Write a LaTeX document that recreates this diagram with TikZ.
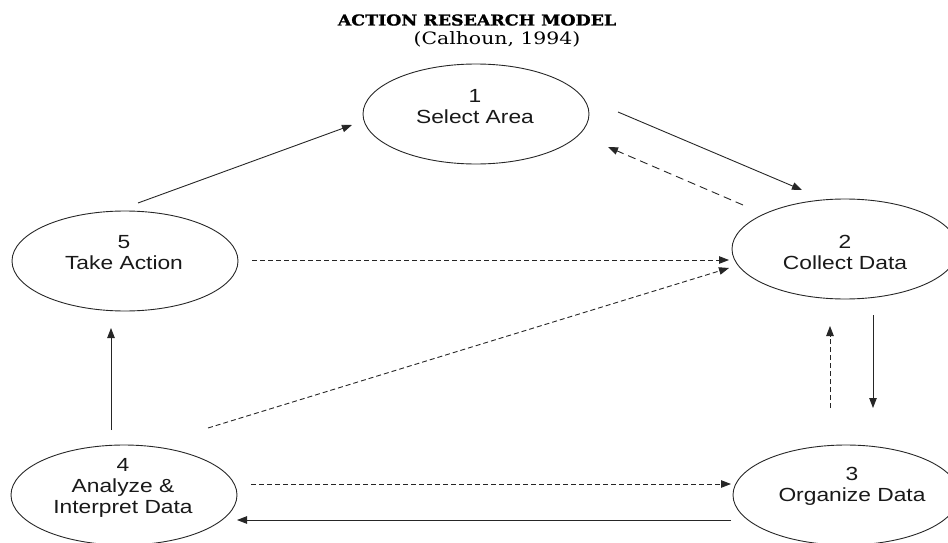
\documentclass[tikz,border=0pt]{standalone}
\usepackage{fontspec}
\newfontfamily\nodefont{Liberation Sans}[FakeStretch=1.2]
\newfontfamily\titlefont{DejaVu Serif}[FakeStretch=1.2]
\newfontfamily\titleboldfont{DejaVu Serif Bold}[FakeStretch=1.16,FakeBold=1.2]
\usetikzlibrary{arrows.meta,shapes.geometric}
\begin{document}
\begin{tikzpicture}[x=1pt,y=-1pt,
  ell/.style={draw=black!85,line width=0.9pt,ellipse,minimum width=226pt,minimum height=100pt,inner sep=0pt},
  lbl/.style={align=center,font=\nodefont\fontsize{19}{21}\selectfont,inner sep=0pt,text=black!90},
  solidarr/.style={draw=black!85,line width=0.9pt,-{Triangle[length=10pt,width=7.5pt]}},
  dasharr/.style={solidarr,dash pattern=on 5pt off 3pt},
  longdash/.style={solidarr,dash pattern=on 8pt off 5pt}]
\useasboundingbox (0,0) rectangle (948,543);
% title
\node[anchor=base,inner sep=0pt,font=\titleboldfont\fontsize{15}{18}\selectfont] (title) at (477,25.5) {ACTION RESEARCH MODEL};
\node[anchor=base,inner sep=0pt,font=\titlefont\fontsize{17}{20}\selectfont] (sub) at (497,45) {(Calhoun, 1994)};
% ellipses
\node[ell] (e1) at (476,114) {};
\node[ell] (e2) at (845,249) {};
\node[ell] (e3) at (846,495) {};
\node[ell] (e4) at (124,495) {};
\node[ell] (e5) at (125,261) {};
% labels
\node[lbl] (t1) at (475,107) {1\\Select Area};
\node[lbl] (t2) at (845,252) {2\\Collect Data};
\node[lbl] (t3) at (852,486) {3\\Organize Data};
\node[lbl] (t4) at (123,488) {4\\Analyze \&\\Interpret Data};
\node[lbl] (t5) at (124,253) {5\\Take Action};
% connector ends
\coordinate (a51) at (138,203); \coordinate (b51) at (352,125);
\coordinate (a12) at (618,112); \coordinate (b12) at (802,190);
\coordinate (a21) at (743,205); \coordinate (b21) at (608,147);
\coordinate (a52) at (252,260); \coordinate (b52) at (729,260);
\coordinate (a42) at (208,428); \coordinate (b42) at (729,268);
\coordinate (a23) at (873,315); \coordinate (b23) at (873,408);
\coordinate (a32) at (830,408); \coordinate (b32) at (830,326);
\coordinate (a43) at (251,484); \coordinate (b43) at (731,484);
\coordinate (a34) at (731,520); \coordinate (b34) at (237,520);
\coordinate (a45) at (111,430); \coordinate (b45) at (111,328);
% connectors
\draw[solidarr] (a51) -- (b51);
\draw[solidarr] (a12) -- (b12);
\draw[longdash] (a21) -- (b21);
\draw[dasharr] (a52) -- (b52);
\draw[dasharr] (a42) -- (b42);
\draw[solidarr] (a23) -- (b23);
\draw[dasharr] (a32) -- (b32);
\draw[dasharr] (a43) -- (b43);
\draw[solidarr] (a34) -- (b34);
\draw[solidarr] (a45) -- (b45);
\end{tikzpicture}
\end{document}
